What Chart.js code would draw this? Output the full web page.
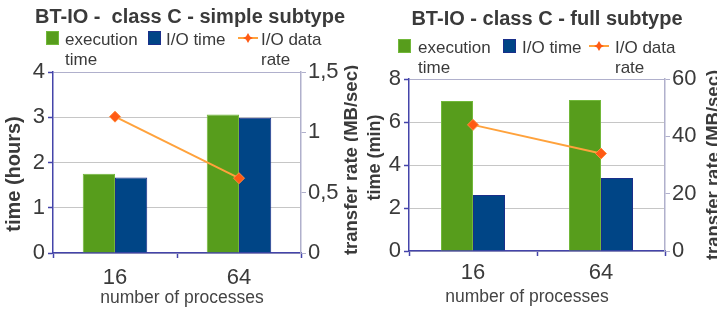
<!DOCTYPE html>
<html><head><meta charset="utf-8">
<script src="https://cdn.jsdelivr.net/npm/chart.js@4.4.0/dist/chart.umd.min.js"></script>
<style>body{margin:0;background:#fff;overflow:hidden} canvas{position:absolute;top:0}</style>
</head><body>
<canvas id="c1" width="358" height="311" style="left:0"></canvas>
<canvas id="c2" width="359" height="311" style="left:358px"></canvas>
<script>
// ---- data ----
const categories = ['16', '64'];
const simpleExecTime = [1.75, 3.06];
const simpleIoTime = [1.67, 2.99];
const simpleIoRate = [1.13, 0.62];
const fullExecTime = [6.98, 7.02];
const fullIoTime = [2.6, 3.4];
const fullIoRate = [44, 34];
const legendLines = [['execution', 'time'], ['I/O time'], ['I/O data', 'rate']];
const simpleTitle = 'BT-IO -  class C - simple subtype';
const fullTitle = 'BT-IO - class C - full subtype';
const xTitle = 'number of processes';
const simpleYTitle = 'time (hours)';
const fullYTitle = 'time (min)';
const rateTitle = 'transfer rate (MB/sec)';
const simpleYRange = [0, 4, 1];
const simpleY2Range = [0, 1.5, 0.5];
const fullYRange = [0, 8, 2];
const fullY2Range = [0, 60, 20];

const FONT = '"Liberation Sans", Arial, sans-serif';
const GREEN = '#579d1c', BLUE = '#004586';
const AXIS = '#4444aa', AXIS2 = '#b0b0cc', GRID = '#c6c6c6';
const TXT = '#3a3a3a';

const overlay = {
  id: 'overlay',
  afterDraw(chart, args, o) {
    const ctx = chart.ctx;
    ctx.save();
    ctx.fillStyle = TXT;
    ctx.textAlign = 'center';
    ctx.textBaseline = 'alphabetic';
    ctx.font = 'bold 20px ' + FONT;
    ctx.fillText(o.title, o.titleX, o.titleY);
    // legend
    ctx.font = '17px ' + FONT;
    ctx.textAlign = 'left';
    o.legend.forEach((it, i) => {
      const ds = chart.data.datasets[i];
      if (i < 2) {
        ctx.fillStyle = ds.backgroundColor;
        ctx.fillRect(it.mx, o.legendY - 14, 13, 14);
        ctx.strokeStyle = ds.borderColor;
        ctx.lineWidth = 1;
        ctx.strokeRect(it.mx + 0.5, o.legendY - 13.5, 12, 13);
      } else {
        const cy = o.legendY - 7;
        ctx.strokeStyle = ds.borderColor;
        ctx.lineWidth = 2;
        ctx.beginPath(); ctx.moveTo(it.mx, cy); ctx.lineTo(it.mx + 20, cy); ctx.stroke();
        const cx = it.mx + 10;
        ctx.fillStyle = ds.pointBackgroundColor;
        ctx.beginPath();
        ctx.moveTo(cx, cy - 5); ctx.lineTo(cx + 2, cy - 1.5); ctx.lineTo(cx + 5, cy);
        ctx.lineTo(cx + 2, cy + 1.5); ctx.lineTo(cx, cy + 5); ctx.lineTo(cx - 2, cy + 1.5);
        ctx.lineTo(cx - 5, cy); ctx.lineTo(cx - 2, cy - 1.5); ctx.closePath(); ctx.fill();
      }
      ctx.fillStyle = TXT;
      legendLines[i].forEach((t, j) => ctx.fillText(t, it.tx, o.legendY + j * 20));
    });
    // x title
    ctx.textAlign = 'center';
    ctx.textBaseline = 'middle';
    ctx.fillStyle = '#444';
    ctx.font = o.xFont + 'px ' + FONT;
    ctx.fillText(xTitle, o.xTitleX, o.xTitleY);
    // y titles
    ctx.fillStyle = TXT;
    [[o.yTitle, o.yX, o.yY, o.yFont], [rateTitle, o.y2X, o.y2Y, o.y2Font]].forEach(([t, x, y, f]) => {
      ctx.save();
      ctx.translate(x, y);
      ctx.rotate(-Math.PI / 2);
      ctx.font = 'bold ' + f + 'px ' + FONT;
      ctx.fillText(t, 0, 0);
      ctx.restore();
    });
    ctx.restore();
  }
};

function makeChart(id, W, area, exec, io, rate, yR, y2R, xPad, ov) {
  const fmt = v => String(v).replace('.', ',');
  return new Chart(document.getElementById(id), {
    type: 'bar',
    data: {
      labels: categories,
      datasets: [
        { label: legendLines[0].join(' '), data: exec, backgroundColor: GREEN, borderColor: '#72b83a', borderWidth: 1, yAxisID: 'y', order: 2, categoryPercentage: area.cp, barPercentage: 1 },
        { label: legendLines[1].join(' '), data: io, backgroundColor: BLUE, borderColor: '#1a2f8a', borderWidth: 1, yAxisID: 'y', order: 2, categoryPercentage: area.cp, barPercentage: 1 },
        { type: 'line', label: legendLines[2].join(' '), data: rate, yAxisID: 'y2', order: 0,
          borderColor: '#ffa23c', borderWidth: 2, pointStyle: 'rectRot', pointRadius: 5.5,
          pointBackgroundColor: '#ff5a14', pointBorderColor: '#ff8c40', pointBorderWidth: 1 }
      ]
    },
    options: {
      responsive: false, animation: false,
      layout: { padding: { top: area.top, left: 0, right: 0, bottom: 0 } },
      plugins: { legend: { display: false }, title: { display: false }, tooltip: { enabled: false }, overlay: ov },
      scales: {
        x: {
          offset: true,
          grid: { offset: true, drawOnChartArea: false, drawTicks: true, tickLength: 5, tickColor: AXIS, tickWidth: 1.5 },
          border: { color: AXIS, width: 1.5 },
          ticks: { font: { family: FONT, size: 22, lineHeight: 1 }, color: TXT, padding: xPad },
          afterFit: s => { s.height = 311 - area.bottom; }
        },
        y: {
          position: 'left', min: yR[0], max: yR[1],
          ticks: { stepSize: yR[2], font: { family: FONT, size: 22 }, color: TXT, padding: 3 },
          grid: { color: c => c.tick && c.tick.value === yR[1] ? AXIS2 : GRID, lineWidth: 1, tickLength: 5, tickColor: AXIS, tickWidth: 1.5 },
          border: { color: AXIS, width: 1.5 },
          afterFit: s => { s.width = area.left; }
        },
        y2: {
          position: 'right', min: y2R[0], max: y2R[1],
          ticks: { stepSize: y2R[2], font: { family: FONT, size: 22 }, color: TXT, padding: 2, callback: v => fmt(v) },
          grid: { drawOnChartArea: false, tickLength: 5, tickColor: AXIS2, tickWidth: 1 },
          border: { color: AXIS2, width: 1.5 },
          afterFit: s => { s.width = W - area.right; }
        }
      }
    },
    plugins: [overlay]
  });
}

makeChart('c1', 358, { left: 53, right: 301, top: 72, bottom: 253, cp: 0.52 },
  simpleExecTime, simpleIoTime, simpleIoRate, simpleYRange, simpleY2Range, 9,
  { title: simpleTitle, titleX: 190, titleY: 23, legendY: 45,
    legend: [{ mx: 46, tx: 65 }, { mx: 148, tx: 166 }, { mx: 238, tx: 261 }],
    xFont: 17.5, xTitleX: 182, xTitleY: 298,
    yTitle: simpleYTitle, yX: 14.5, yY: 174, yFont: 20,
    y2X: 352, y2Y: 160, y2Font: 18.5 });

makeChart('c2', 359, { left: 51, right: 307, top: 79, bottom: 251, cp: 0.5 },
  fullExecTime, fullIoTime, fullIoRate, fullYRange, fullY2Range, 6,
  { title: fullTitle, titleX: 189, titleY: 25, legendY: 53,
    legend: [{ mx: 40, tx: 60 }, { mx: 145, tx: 164 }, { mx: 231, tx: 257 }],
    xFont: 17.5, xTitleX: 169, xTitleY: 297,
    yTitle: fullYTitle, yX: 17.5, yY: 157.5, yFont: 18,
    y2X: 356, y2Y: 165, y2Font: 18.5 });
</script>
</body></html>
